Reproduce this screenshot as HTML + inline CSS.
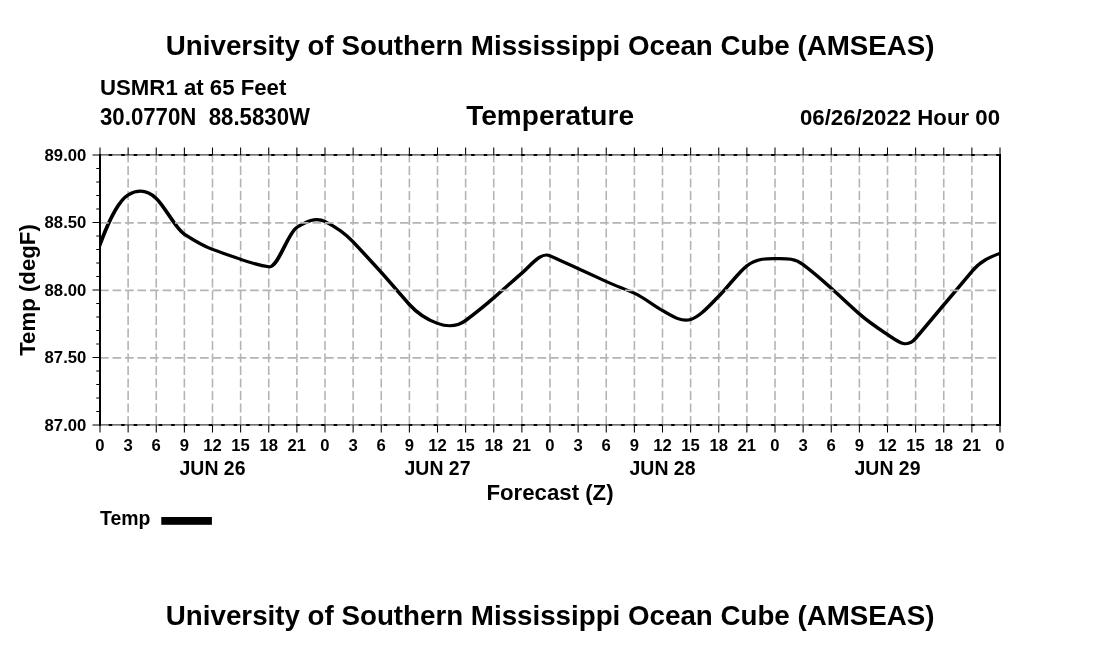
<!DOCTYPE html>
<html><head><meta charset="utf-8"><title>Temperature</title>
<style>html,body{margin:0;padding:0;background:#fff}svg{display:block;will-change:transform;filter:grayscale(1)}text{font-family:"Liberation Sans",sans-serif;font-weight:bold;fill:#000}</style></head><body>
<svg width="1100" height="650" viewBox="0 0 1100 650">
<rect width="1100" height="650" fill="#fff"/>
<path d="M128.125 425 V155 M156.250 425 V155 M184.375 425 V155 M212.500 425 V155 M240.625 425 V155 M268.750 425 V155 M296.875 425 V155 M325.000 425 V155 M353.125 425 V155 M381.250 425 V155 M409.375 425 V155 M437.500 425 V155 M465.625 425 V155 M493.750 425 V155 M521.875 425 V155 M550.000 425 V155 M578.125 425 V155 M606.250 425 V155 M634.375 425 V155 M662.500 425 V155 M690.625 425 V155 M718.750 425 V155 M746.875 425 V155 M775.000 425 V155 M803.125 425 V155 M831.250 425 V155 M859.375 425 V155 M887.500 425 V155 M915.625 425 V155 M943.750 425 V155 M971.875 425 V155" stroke="#b4b4b4" stroke-width="1.6" stroke-dasharray="9 3.5" fill="none"/>
<path d="M100 154.8 H1000" stroke="#444" stroke-width="1.15"/>
<path d="M108.7 155 H1000" stroke="#000" stroke-width="2" stroke-dasharray="3.5 9"/>
<path d="M100 424.9 H1000" stroke="#444" stroke-width="1.15"/>
<path d="M108.7 425 H1000" stroke="#000" stroke-width="2" stroke-dasharray="3.5 9"/>
<path d="M100.000 155 V147.5 M100.000 425 V432.5 M128.125 155 V147.5 M128.125 425 V432.5 M156.250 155 V147.5 M156.250 425 V432.5 M184.375 155 V147.5 M184.375 425 V432.5 M212.500 155 V147.5 M212.500 425 V432.5 M240.625 155 V147.5 M240.625 425 V432.5 M268.750 155 V147.5 M268.750 425 V432.5 M296.875 155 V147.5 M296.875 425 V432.5 M325.000 155 V147.5 M325.000 425 V432.5 M353.125 155 V147.5 M353.125 425 V432.5 M381.250 155 V147.5 M381.250 425 V432.5 M409.375 155 V147.5 M409.375 425 V432.5 M437.500 155 V147.5 M437.500 425 V432.5 M465.625 155 V147.5 M465.625 425 V432.5 M493.750 155 V147.5 M493.750 425 V432.5 M521.875 155 V147.5 M521.875 425 V432.5 M550.000 155 V147.5 M550.000 425 V432.5 M578.125 155 V147.5 M578.125 425 V432.5 M606.250 155 V147.5 M606.250 425 V432.5 M634.375 155 V147.5 M634.375 425 V432.5 M662.500 155 V147.5 M662.500 425 V432.5 M690.625 155 V147.5 M690.625 425 V432.5 M718.750 155 V147.5 M718.750 425 V432.5 M746.875 155 V147.5 M746.875 425 V432.5 M775.000 155 V147.5 M775.000 425 V432.5 M803.125 155 V147.5 M803.125 425 V432.5 M831.250 155 V147.5 M831.250 425 V432.5 M859.375 155 V147.5 M859.375 425 V432.5 M887.500 155 V147.5 M887.500 425 V432.5 M915.625 155 V147.5 M915.625 425 V432.5 M943.750 155 V147.5 M943.750 425 V432.5 M971.875 155 V147.5 M971.875 425 V432.5 M1000.000 155 V147.5 M1000.000 425 V432.5" stroke="#000" stroke-width="1.05" fill="none"/>
<path d="M100 155.00 H92.5 M100 168.50 H96.25 M100 182.00 H96.25 M100 195.50 H96.25 M100 209.00 H96.25 M100 222.50 H92.5 M100 236.00 H96.25 M100 249.50 H96.25 M100 263.00 H96.25 M100 276.50 H96.25 M100 290.00 H92.5 M100 303.50 H96.25 M100 317.00 H96.25 M100 330.50 H96.25 M100 344.00 H96.25 M100 357.50 H92.5 M100 371.00 H96.25 M100 384.50 H96.25 M100 398.00 H96.25 M100 411.50 H96.25 M100 425.00 H92.5" stroke="#000" stroke-width="1.05" fill="none"/>
<path d="M100 154 V426 M1000 154 V426" stroke="#000" stroke-width="2" fill="none"/>
<clipPath id="pc"><rect x="100" y="155" width="900" height="270"/></clipPath>
<g clip-path="url(#pc)"><path transform="scale(1.25 1)" d="M76.000 257.88 L80.000 244.40 C87.500 219.13 95.000 200.56 102.500 195.00 C110.000 189.44 117.500 189.50 125.000 198.40 C132.500 207.30 140.000 228.17 147.500 234.20 C155.000 240.23 162.500 245.92 170.000 249.40 C177.500 252.88 185.000 256.08 192.500 259.30 C200.000 262.52 207.500 265.34 215.000 266.80 C222.500 268.26 230.000 233.36 237.500 227.40 C245.000 221.44 252.500 216.80 260.000 221.55 C267.500 226.30 275.000 231.93 282.500 241.90 C290.000 251.87 297.500 262.00 305.000 272.40 C312.500 282.80 320.000 294.10 327.500 304.50 C335.000 314.90 342.500 320.06 350.000 323.45 C357.500 326.84 365.000 327.44 372.500 320.50 C380.000 313.56 387.500 305.96 395.000 297.90 C402.500 289.84 410.000 281.20 417.500 273.10 C425.000 265.00 432.500 251.67 440.000 255.80 C447.500 259.93 455.000 264.30 462.500 268.60 C470.000 272.90 477.500 277.21 485.000 281.50 C492.500 285.79 500.000 289.11 507.500 293.25 C515.000 297.39 522.500 305.24 530.000 310.60 C537.500 315.96 545.000 322.22 552.500 319.45 C560.000 316.68 567.500 305.43 575.000 296.30 C582.500 287.17 590.000 273.17 597.500 265.80 C605.000 258.43 612.500 258.55 620.000 258.65 C627.500 258.75 635.000 257.55 642.500 264.60 C650.000 271.65 657.500 279.79 665.000 288.20 C672.500 296.61 680.000 305.52 687.500 313.90 C695.000 322.28 702.500 328.30 710.000 334.50 C717.500 340.70 725.000 349.52 732.500 338.45 C740.000 327.38 747.500 316.05 755.000 304.90 C762.500 293.75 770.000 282.58 777.500 271.50 C785.000 260.42 792.500 256.83 800.000 253.30" stroke="#000" stroke-width="3.1" fill="none" stroke-linejoin="round" stroke-linecap="butt"/></g>
<path d="M101 222.8 H999 M101 290.3 H999 M101 357.8 H999" stroke="#b4b4b4" stroke-width="1.8" stroke-dasharray="8.7 3.8" stroke-dashoffset="1" fill="none"/>
<text transform="translate(550.2 55) scale(0.9985 1.025)" font-size="27.78" text-anchor="middle">University of Southern Mississippi Ocean Cube (AMSEAS)</text>
<text transform="translate(550.2 625) scale(0.9985 1.025)" font-size="27.78" text-anchor="middle">University of Southern Mississippi Ocean Cube (AMSEAS)</text>
<text transform="translate(100 94.8) scale(1 1.015)" font-size="22.22">USMR1 at 65 Feet</text>
<text transform="translate(100 124.8) scale(1 1.035)" font-size="22.22" xml:space="preserve">30.0770N  88.5830W</text>
<text transform="translate(550.1 124.8) scale(1.01 1.025)" font-size="27.78" text-anchor="middle">Temperature</text>
<text transform="translate(1000 124.8) scale(1 1.02)" font-size="22.22" text-anchor="end">06/26/2022 Hour 00</text>
<text x="86.3" y="160.9" font-size="16.67" text-anchor="end">89.00</text>
<text x="86.3" y="228.4" font-size="16.67" text-anchor="end">88.50</text>
<text x="86.3" y="295.9" font-size="16.67" text-anchor="end">88.00</text>
<text x="86.3" y="363.4" font-size="16.67" text-anchor="end">87.50</text>
<text x="86.3" y="430.9" font-size="16.67" text-anchor="end">87.00</text>
<text x="100.00" y="450.9" font-size="16.67" text-anchor="middle">0</text>
<text x="128.12" y="450.9" font-size="16.67" text-anchor="middle">3</text>
<text x="156.25" y="450.9" font-size="16.67" text-anchor="middle">6</text>
<text x="184.38" y="450.9" font-size="16.67" text-anchor="middle">9</text>
<text x="212.50" y="450.9" font-size="16.67" text-anchor="middle">12</text>
<text x="240.62" y="450.9" font-size="16.67" text-anchor="middle">15</text>
<text x="268.75" y="450.9" font-size="16.67" text-anchor="middle">18</text>
<text x="296.88" y="450.9" font-size="16.67" text-anchor="middle">21</text>
<text x="325.00" y="450.9" font-size="16.67" text-anchor="middle">0</text>
<text x="353.12" y="450.9" font-size="16.67" text-anchor="middle">3</text>
<text x="381.25" y="450.9" font-size="16.67" text-anchor="middle">6</text>
<text x="409.38" y="450.9" font-size="16.67" text-anchor="middle">9</text>
<text x="437.50" y="450.9" font-size="16.67" text-anchor="middle">12</text>
<text x="465.62" y="450.9" font-size="16.67" text-anchor="middle">15</text>
<text x="493.75" y="450.9" font-size="16.67" text-anchor="middle">18</text>
<text x="521.88" y="450.9" font-size="16.67" text-anchor="middle">21</text>
<text x="550.00" y="450.9" font-size="16.67" text-anchor="middle">0</text>
<text x="578.12" y="450.9" font-size="16.67" text-anchor="middle">3</text>
<text x="606.25" y="450.9" font-size="16.67" text-anchor="middle">6</text>
<text x="634.38" y="450.9" font-size="16.67" text-anchor="middle">9</text>
<text x="662.50" y="450.9" font-size="16.67" text-anchor="middle">12</text>
<text x="690.62" y="450.9" font-size="16.67" text-anchor="middle">15</text>
<text x="718.75" y="450.9" font-size="16.67" text-anchor="middle">18</text>
<text x="746.88" y="450.9" font-size="16.67" text-anchor="middle">21</text>
<text x="775.00" y="450.9" font-size="16.67" text-anchor="middle">0</text>
<text x="803.12" y="450.9" font-size="16.67" text-anchor="middle">3</text>
<text x="831.25" y="450.9" font-size="16.67" text-anchor="middle">6</text>
<text x="859.38" y="450.9" font-size="16.67" text-anchor="middle">9</text>
<text x="887.50" y="450.9" font-size="16.67" text-anchor="middle">12</text>
<text x="915.62" y="450.9" font-size="16.67" text-anchor="middle">15</text>
<text x="943.75" y="450.9" font-size="16.67" text-anchor="middle">18</text>
<text x="971.88" y="450.9" font-size="16.67" text-anchor="middle">21</text>
<text x="1000.00" y="450.9" font-size="16.67" text-anchor="middle">0</text>
<text x="212.5" y="475" font-size="19.44" text-anchor="middle">JUN 26</text>
<text x="437.5" y="475" font-size="19.44" text-anchor="middle">JUN 27</text>
<text x="662.5" y="475" font-size="19.44" text-anchor="middle">JUN 28</text>
<text x="887.5" y="475" font-size="19.44" text-anchor="middle">JUN 29</text>
<text x="550" y="500.4" font-size="22.22" text-anchor="middle">Forecast (Z)</text>
<text transform="translate(34.5 290) rotate(-90)" font-size="22.22" text-anchor="middle">Temp (degF)</text>
<text x="100" y="524.6" font-size="19.44">Temp</text>
<rect x="161.3" y="517" width="50.6" height="7.8" fill="#000"/>
</svg></body></html>
